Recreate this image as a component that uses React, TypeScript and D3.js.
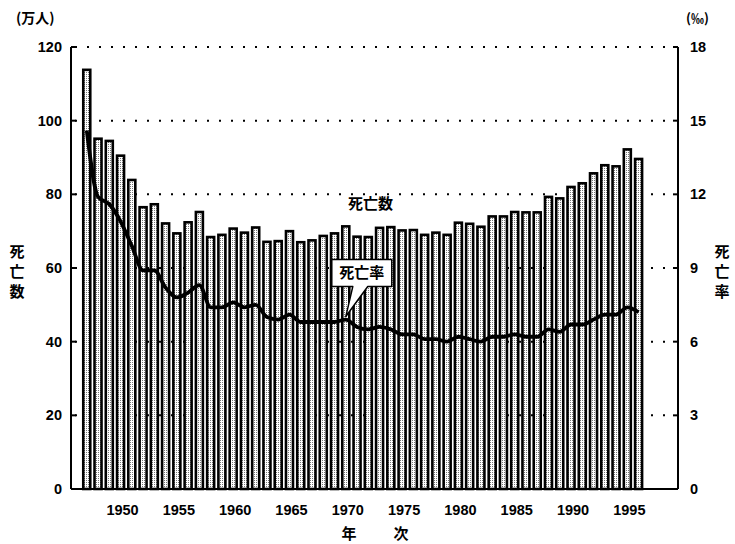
import React, { useEffect, useRef } from 'react';
import * as d3 from 'd3';

const years = d3.range(1947, 1997);
// 死亡数 (万人)
const deaths = [
  113.8, 95.1, 94.5, 90.5, 83.9, 76.5, 77.3, 72.1, 69.4, 72.4,
  75.2, 68.4, 69.0, 70.7, 69.6, 71.0, 67.1, 67.3, 70.0, 67.0,
  67.5, 68.7, 69.4, 71.3, 68.5, 68.4, 70.9, 71.1, 70.2, 70.3,
  69.0, 69.6, 69.0, 72.3, 72.0, 71.2, 74.0, 74.0, 75.2, 75.1,
  75.1, 79.3, 78.9, 82.0, 83.0, 85.7, 87.9, 87.6, 92.2, 89.6,
];
// 死亡率 (‰)
const rates = [
  14.6, 11.9, 11.6, 10.9, 9.9, 8.9, 8.9, 8.2, 7.8, 8.0,
  8.3, 7.4, 7.4, 7.6, 7.4, 7.5, 7.0, 6.9, 7.1, 6.8,
  6.8, 6.8, 6.8, 6.9, 6.6, 6.5, 6.6, 6.5, 6.3, 6.3,
  6.1, 6.1, 6.0, 6.2, 6.1, 6.0, 6.2, 6.2, 6.3, 6.2,
  6.2, 6.5, 6.4, 6.7, 6.7, 6.9, 7.1, 7.1, 7.4, 7.2,
];
const leftTicks = [0, 20, 40, 60, 80, 100, 120];
const rightTicks = [0, 3, 6, 9, 12, 15, 18];
const yearTicks = [1950, 1955, 1960, 1965, 1970, 1975, 1980, 1985, 1990, 1995];

const numFont = '"Liberation Sans", Arial, sans-serif';
const cjkFont = '"Noto Sans CJK JP", sans-serif';

const App = () => {
  const ref = useRef<SVGSVGElement>(null);

  useEffect(() => {
    document.body.style.margin = '0';
    const svg = d3.select(ref.current);
    svg.selectAll('*').remove();

    const left = 71, right = 678, top = 47, bottom = 489;

    const x = d3.scaleLinear().domain([1945.6, 1999.5]).range([left, right]);
    const y = d3.scaleLinear().domain([0, 120]).range([bottom, top]);
    const yR = d3.scaleLinear().domain([0, 18]).range([bottom, top]);

    const defs = svg.append('defs');
    const pat = defs.append('pattern')
      .attr('id', 'dots')
      .attr('width', 2)
      .attr('height', 2)
      .attr('patternUnits', 'userSpaceOnUse');
    pat.append('rect').attr('width', 2).attr('height', 2).attr('fill', '#fff');
    pat.append('rect').attr('width', 1).attr('height', 1).attr('fill', '#777');

    // dotted grid
    svg.append('g')
      .selectAll('line')
      .data(leftTicks.filter(d => d > 0))
      .enter()
      .append('line')
      .attr('x1', left + 4)
      .attr('x2', right - 4)
      .attr('y1', d => y(d))
      .attr('y2', d => y(d))
      .attr('stroke', '#000')
      .attr('stroke-width', 2)
      .attr('stroke-dasharray', '2,10');

    // bars
    const bw = 7;
    svg.append('g')
      .selectAll('rect')
      .data(deaths)
      .enter()
      .append('rect')
      .attr('x', (d, i) => x(years[i]) - bw / 2)
      .attr('y', d => y(d))
      .attr('width', bw)
      .attr('height', d => bottom - y(d))
      .attr('fill', 'url(#dots)')
      .attr('stroke', '#000')
      .attr('stroke-width', 2.6);

    // axes
    const ax = svg.append('g').attr('stroke', '#000').attr('stroke-width', 2);
    ax.append('line').attr('x1', left).attr('x2', left).attr('y1', top).attr('y2', bottom);
    ax.append('line').attr('x1', right).attr('x2', right).attr('y1', top).attr('y2', bottom);
    ax.append('line').attr('x1', left).attr('x2', right).attr('y1', bottom).attr('y2', bottom);
    leftTicks.forEach(t => {
      ax.append('line').attr('x1', left).attr('x2', left + 5).attr('y1', y(t)).attr('y2', y(t));
    });
    rightTicks.forEach(t => {
      ax.append('line').attr('x1', right - 5).attr('x2', right).attr('y1', yR(t)).attr('y2', yR(t));
    });

    // tick labels
    svg.append('g')
      .selectAll('text')
      .data(leftTicks)
      .enter()
      .append('text')
      .attr('x', 62)
      .attr('y', d => y(d))
      .attr('dy', '0.35em')
      .attr('text-anchor', 'end')
      .style('font', `bold 14.5px ${numFont}`)
      .text(d => d);

    svg.append('g')
      .selectAll('text')
      .data(rightTicks)
      .enter()
      .append('text')
      .attr('x', 690)
      .attr('y', d => yR(d))
      .attr('dy', '0.35em')
      .style('font', `bold 14.5px ${numFont}`)
      .text(d => d);

    svg.append('g')
      .selectAll('text')
      .data(yearTicks)
      .enter()
      .append('text')
      .attr('x', d => x(d) + 2)
      .attr('y', 510)
      .attr('dy', '0.35em')
      .attr('text-anchor', 'middle')
      .style('font', `bold 14.5px ${numFont}`)
      .text(d => d);

    // rate line
    const line = d3.line<number>()
      .x((d, i) => x(years[i]))
      .y(d => yR(d))
      .curve(d3.curveMonotoneX);
    svg.append('path')
      .datum(rates)
      .attr('d', line)
      .attr('fill', 'none')
      .attr('stroke', '#000')
      .attr('stroke-width', 3.8)
      .attr('stroke-linejoin', 'round');

    // 死亡数 label
    svg.append('text')
      .attr('x', x(1972.2))
      .attr('y', y(77.5))
      .attr('dy', '0.35em')
      .attr('text-anchor', 'middle')
      .style('font', `bold 15px ${cjkFont}`)
      .text('死亡数');

    // 死亡率 callout
    const tx = x(1970), ty = yR(6.9) - 3;
    const bx = tx - 14, by = ty - 57, bwid = 60, bh = 27;
    svg.append('path')
      .attr('d', `M${bx},${by} H${bx + bwid} V${by + bh} H${tx + 22} L${tx},${ty} L${tx + 7},${by + bh} H${bx} Z`)
      .attr('fill', '#fff')
      .attr('stroke', '#000')
      .attr('stroke-width', 1.5)
      .attr('stroke-linejoin', 'round');
    svg.append('text')
      .attr('x', bx + bwid / 2)
      .attr('y', by + bh / 2)
      .attr('dy', '0.36em')
      .attr('text-anchor', 'middle')
      .style('font', `bold 15px ${cjkFont}`)
      .text('死亡率');

    // units
    svg.append('text')
      .attr('x', 16).attr('y', 18).attr('dy', '0.35em')
      .style('font', `bold 14px ${cjkFont}`)
      .text('(万人)');
    svg.append('text')
      .attr('x', 686).attr('y', 18).attr('dy', '0.35em')
      .style('font', `bold 13px ${cjkFont}`)
      .text('(‰)');

    // vertical axis titles
    ['死', '亡', '数'].forEach((c, i) => {
      svg.append('text')
        .attr('x', 17).attr('y', 252 + i * 20).attr('dy', '0.35em')
        .attr('text-anchor', 'middle')
        .style('font', `bold 15px ${cjkFont}`)
        .text(c);
    });
    ['死', '亡', '率'].forEach((c, i) => {
      svg.append('text')
        .attr('x', 722).attr('y', 252 + i * 20).attr('dy', '0.35em')
        .attr('text-anchor', 'middle')
        .style('font', `bold 15px ${cjkFont}`)
        .text(c);
    });

    // x axis title
    svg.append('text')
      .attr('x', 349).attr('y', 534).attr('dy', '0.35em')
      .attr('text-anchor', 'middle')
      .style('font', `bold 15px ${cjkFont}`)
      .text('年');
    svg.append('text')
      .attr('x', 401).attr('y', 534).attr('dy', '0.35em')
      .attr('text-anchor', 'middle')
      .style('font', `bold 15px ${cjkFont}`)
      .text('次');
  }, []);

  return <svg ref={ref} width={735} height={544} style={{ display: 'block', background: '#fff' }}></svg>;
};

export default App;
